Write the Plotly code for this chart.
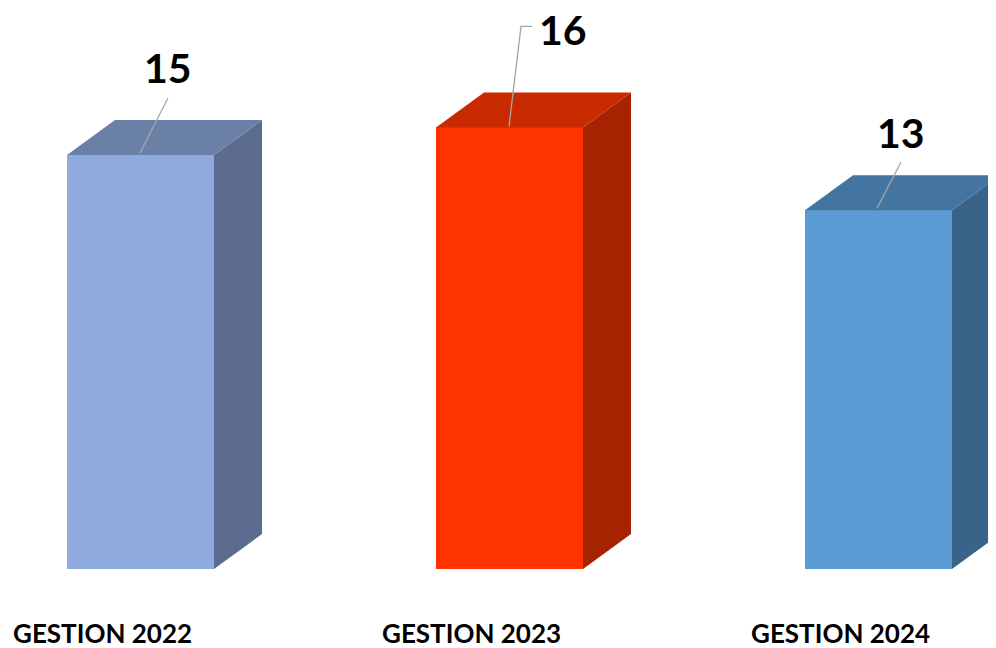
import plotly.graph_objects as go

categories = ["GESTION 2022", "GESTION 2023", "GESTION 2024"]
values = [15, 16, 13]
value_labels = ["15", "16", "13"]

front_colors = ["#8FAADC", "#FF3300", "#5B9BD5"]
top_colors = ["#6B80A6", "#C92A00", "#4475A1"]
side_colors = ["#5B6C8F", "#A52300", "#3A6389"]

W, H = 996, 648
PAGE_OFF = 8.0  # page body margin
# pixel geometry of the axes (styling)
X0_PX, STEP_PX = 140.5 - PAGE_OFF, 369.0
BASE_PX, UNIT_PX = 569.0 - PAGE_OFF, 27.6
BAR_W = 147.0 / STEP_PX
DX = 48.0 / STEP_PX
DY = 35.0 / UNIT_PX

def px_x(dpx):
    return dpx / STEP_PX

def px_y(dpx):
    return dpx / UNIT_PX

xr = [-X0_PX / STEP_PX, (W - X0_PX) / STEP_PX]
yr = [-(H - BASE_PX) / UNIT_PX, BASE_PX / UNIT_PX]

fig = go.Figure()
xs = list(range(len(categories)))

for i, v in enumerate(values):
    xl = xs[i] - BAR_W / 2
    xrt = xs[i] + BAR_W / 2
    # side face
    fig.add_trace(go.Scatter(
        x=[xrt, xrt + DX, xrt + DX, xrt, xrt],
        y=[0, DY, v + DY, v, 0],
        fill="toself", fillcolor=side_colors[i], mode="lines",
        line=dict(width=0, color=side_colors[i]), hoverinfo="skip", showlegend=False))
    # top face
    fig.add_trace(go.Scatter(
        x=[xl, xl + DX, xrt + DX, xrt, xl],
        y=[v, v + DY, v + DY, v, v],
        fill="toself", fillcolor=top_colors[i], mode="lines",
        line=dict(width=0, color=top_colors[i]), hoverinfo="skip", showlegend=False))

# front faces
fig.add_trace(go.Bar(
    x=xs, y=values, width=BAR_W, marker=dict(color=front_colors, line=dict(width=0)),
    hoverinfo="skip", showlegend=False))

# leader lines (offsets in pixels from the bar top-centre)
leader_offsets = [
    [(-0.5, 2), (27.5, 57)],
    [(-0.5, 1), (11.5, 101), (22.5, 101)],
    [(-1.5, 2), (22.5, 48)],
]
label_offsets = [(27.5, 88), (53, 98), (22.5, 78)]

for i, v in enumerate(values):
    lx = [xs[i] + px_x(dx) for dx, dy in leader_offsets[i]]
    ly = [v + px_y(dy) for dx, dy in leader_offsets[i]]
    fig.add_trace(go.Scatter(x=lx, y=ly, mode="lines",
                             line=dict(color="#A6A6A6", width=1.3),
                             hoverinfo="skip", showlegend=False))
    dx, dy = label_offsets[i]
    fig.add_annotation(x=xs[i] + px_x(dx), y=v + px_y(dy), text="<b>%s</b>" % value_labels[i],
                       showarrow=False, font=dict(family="Lato", size=41, color="#000000"),
                       xanchor="center", yanchor="middle", borderpad=0)

for i, c in enumerate(categories):
    fig.add_annotation(x=xs[i], y=0, text="<b>%s</b>" % c, showarrow=False,
                       xshift=-38.5, yshift=-(633 - 569),
                       font=dict(family="Lato", size=26, color="#000000"),
                       xanchor="center", yanchor="middle")

fig.update_layout(
    width=W, height=H, margin=dict(l=0, r=0, t=0, b=0),
    paper_bgcolor="white", plot_bgcolor="white",
    xaxis=dict(range=xr, visible=False, fixedrange=True),
    yaxis=dict(range=yr, visible=False, fixedrange=True),
    bargap=0,
)

fig.write_html("out.html")
